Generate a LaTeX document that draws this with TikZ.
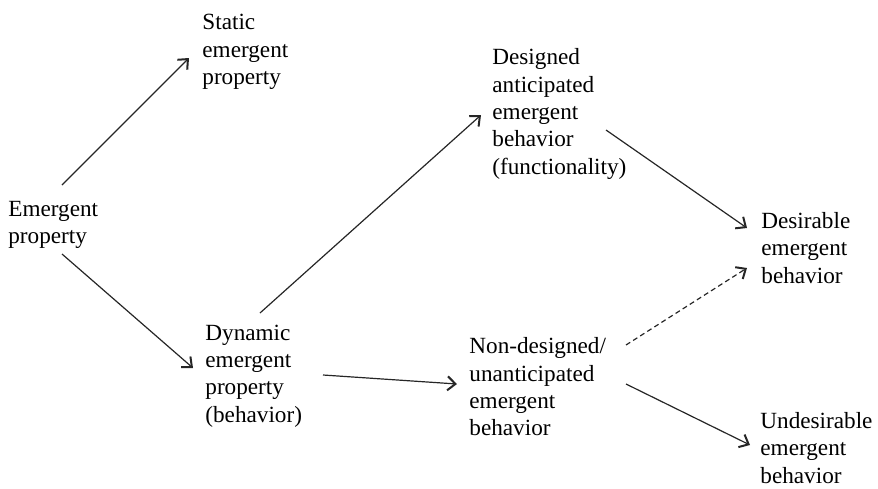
\documentclass[tikz,border=0pt]{standalone}
\usepackage{fontspec}
\setmainfont{Liberation Serif}
\usetikzlibrary{arrows.meta}

\begin{document}
\begin{tikzpicture}[
    x=0.5pt, y=-0.5pt,
    txt/.style={anchor=west, inner sep=0pt, align=left, font=\fontsize{11.6}{13.65}\selectfont},
    arr/.style={-{Straight Barb[length=4pt,width=7pt,line width=1pt]}, line width=0.6pt, black!85},
    dsh/.style={arr, dash pattern=on 2.5pt off 1.7pt}
]
\useasboundingbox (0,0) rectangle (878,488);

\node[txt] (emg) at (8,225) {Emergent\\property};
\node[txt] (stat) at (202,52) {Static\\emergent\\property};
\node[txt] (dyn) at (205,376) {Dynamic\\emergent\\property\\(behavior)};
\node[txt] (des) at (492,114) {Designed\\anticipated\\emergent\\behavior\\(functionality)};
\node[txt] (non) at (469,387) {Non-designed/\\unanticipated\\emergent\\behavior};
\node[txt] (desir) at (761,248) {Desirable\\emergent\\behavior};
\node[txt] (undes) at (760,448) {Undesirable\\emergent\\behavior};

\draw[arr] ([shift={(54,-40)}]emg.west) -- ([shift={(-13,6)}]stat.west);
\draw[arr] ([shift={(54,29)}]emg.west) -- ([shift={(-12,-8)}]dyn.west);
\draw[arr] ([shift={(55,-63)}]dyn.west) -- ([shift={(-11,1)}]des.west);
\draw[arr] ([shift={(118,-1)}]dyn.west) -- ([shift={(-12,-3)}]non.west);
\draw[arr] ([shift={(114,16)}]des.west) -- ([shift={(-14,-20)}]desir.west);
\draw[dsh] ([shift={(157,-42)}]non.west) -- ([shift={(-14,20)}]desir.west);
\draw[arr] ([shift={(157,-3)}]non.west) -- ([shift={(-10,-3)}]undes.west);
\end{tikzpicture}
\end{document}
